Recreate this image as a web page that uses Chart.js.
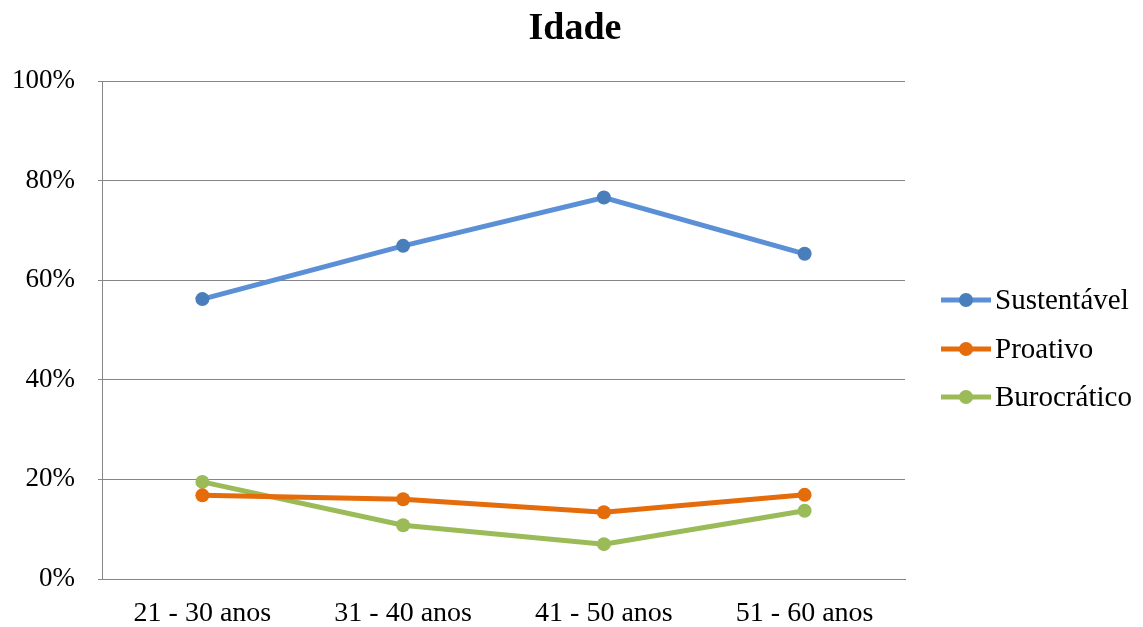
<!DOCTYPE html>
<html>
<head>
<meta charset="utf-8">
<script src="https://cdn.jsdelivr.net/npm/chart.js@4.4.1/dist/chart.umd.min.js"></script>
<style>
html,body{margin:0;padding:0;background:#fff;}
#wrap{width:1143px;height:627px;position:relative;}
</style>
</head>
<body>
<div id="wrap"><canvas id="c" width="1143" height="627"></canvas></div>
<script>
const categories = ['21 - 30 anos', '31 - 40 anos', '41 - 50 anos', '51 - 60 anos'];
const sustentavel = [56.2, 66.9, 76.6, 65.3];
const proativo = [16.8, 16.0, 13.4, 16.9];
const burocratico = [19.5, 10.8, 7.0, 13.7];
const seriesNames = ['Sustentável', 'Proativo', 'Burocrático'];
const titleText = 'Idade';

const FONT = '"Liberation Serif", "Times New Roman", serif';
const lineColors = ['#5B8FD6', '#E46C0A', '#9BBB59'];
const pointColors = ['#4A7EBB', '#E46C0A', '#9BBB59'];

const customDraw = {
  id: 'customDraw',
  afterDraw(chart) {
    const ctx = chart.ctx;
    ctx.save();
    // title
    ctx.fillStyle = '#000';
    ctx.font = 'bold 38px ' + FONT;
    ctx.textAlign = 'center';
    ctx.textBaseline = 'middle';
    ctx.fillText(titleText, 575, 29);
    // legend
    const ys = [300, 349, 397];
    chart.data.datasets.forEach((ds, i) => {
      const y = ys[i];
      ctx.strokeStyle = ds.borderColor;
      ctx.lineWidth = 5;
      ctx.beginPath();
      ctx.moveTo(941, y);
      ctx.lineTo(991, y);
      ctx.stroke();
      ctx.fillStyle = ds.pointBackgroundColor;
      ctx.beginPath();
      ctx.arc(966, y, 7, 0, Math.PI * 2);
      ctx.fill();
      ctx.fillStyle = '#000';
      ctx.font = '29px ' + FONT;
      ctx.textAlign = 'left';
      ctx.textBaseline = 'middle';
      ctx.fillText(ds.label, 995, y + 1);
    });
    ctx.restore();
  }
};

const values = [sustentavel, proativo, burocratico];
new Chart(document.getElementById('c'), {
  type: 'line',
  data: {
    labels: categories,
    datasets: values.map((v, i) => ({
      label: seriesNames[i],
      data: v,
      borderColor: lineColors[i],
      backgroundColor: lineColors[i],
      pointBackgroundColor: pointColors[i],
      pointBorderColor: pointColors[i],
      borderWidth: 5,
      pointRadius: 7,
      pointBorderWidth: 0,
      tension: 0,
      fill: false
    }))
  },
  options: {
    responsive: false,
    animation: false,
    layout: { padding: { top: 81, right: 238, left: 0, bottom: 0 } },
    plugins: { legend: { display: false }, title: { display: false }, tooltip: { enabled: false } },
    scales: {
      x: {
        offset: true,
        grid: { display: false, drawTicks: false },
        border: { display: true, color: '#868686', width: 1 },
        ticks: { color: '#000', font: { family: FONT, size: 28 }, padding: 18, maxRotation: 0 },
        afterFit(s) { s.height = 48; }
      },
      y: {
        min: 0, max: 100,
        ticks: { stepSize: 20, color: '#000', font: { family: FONT, size: 27 }, padding: 23, callback: v => v + '%' },
        grid: { color: '#868686', lineWidth: 1, tickLength: 4 },
        border: { display: true, color: '#868686', width: 1 },
        afterFit(s) { s.width = 102; }
      }
    }
  },
  plugins: [customDraw]
});
</script>
</body>
</html>
